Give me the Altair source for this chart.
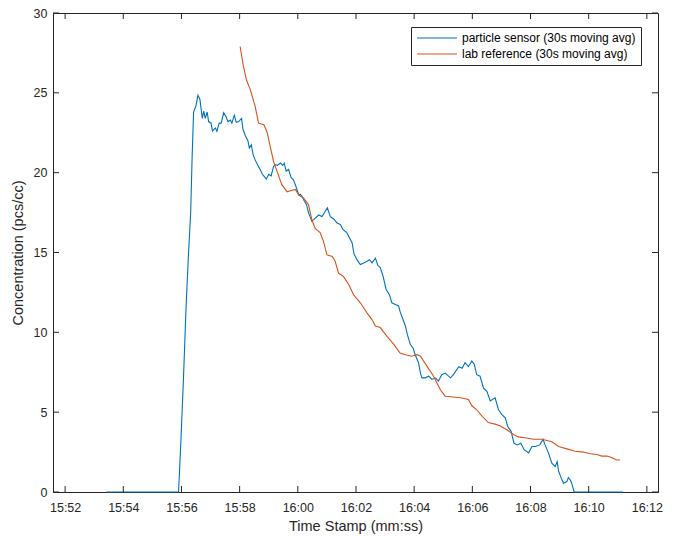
import altair as alt
import pandas as pd

# ---------------- data ----------------
sensor_time = [
    "15:53:25", "15:55:54", "15:55:59", "15:56:04", "15:56:10", "15:56:15", "15:56:19", "15:56:22",
    "15:56:25", "15:56:30", "15:56:34", "15:56:38", "15:56:43", "15:56:46", "15:56:49", "15:56:53",
    "15:56:56", "15:57:01", "15:57:04", "15:57:10", "15:57:13", "15:57:18", "15:57:22", "15:57:27",
    "15:57:32", "15:57:36", "15:57:41", "15:57:44", "15:57:49", "15:57:53", "15:57:58", "15:58:04",
    "15:58:07", "15:58:12", "15:58:17", "15:58:20", "15:58:24", "15:58:28", "15:58:32", "15:58:37",
    "15:58:43", "15:58:47", "15:58:51", "15:58:55", "15:59:00", "15:59:05", "15:59:10", "15:59:14",
    "15:59:18", "15:59:24", "15:59:29", "15:59:32", "15:59:36", "15:59:41", "15:59:46", "15:59:51",
    "15:59:56", "16:00:02", "16:00:05", "16:00:09", "16:00:12", "16:00:18", "16:00:22", "16:00:29",
    "16:00:36", "16:00:43", "16:00:50", "16:00:57", "16:01:01", "16:01:07", "16:01:14", "16:01:21",
    "16:01:28", "16:01:33", "16:01:41", "16:01:47", "16:01:52", "16:01:56", "16:02:02", "16:02:09",
    "16:02:16", "16:02:23", "16:02:28", "16:02:33", "16:02:40", "16:02:45", "16:02:50", "16:02:56",
    "16:03:02", "16:03:09", "16:03:14", "16:03:21", "16:03:28", "16:03:31", "16:03:37", "16:03:42",
    "16:03:46", "16:03:52", "16:03:58", "16:04:02", "16:04:09", "16:04:13", "16:04:16", "16:04:23",
    "16:04:30", "16:04:37", "16:04:44", "16:04:50", "16:04:57", "16:05:04", "16:05:15", "16:05:21",
    "16:05:32", "16:05:39", "16:05:45", "16:05:52", "16:05:59", "16:06:04", "16:06:09", "16:06:16",
    "16:06:23", "16:06:30", "16:06:37", "16:06:47", "16:06:54", "16:07:01", "16:07:08", "16:07:13",
    "16:07:20", "16:07:26", "16:07:33", "16:07:40", "16:07:47", "16:07:56", "16:08:03", "16:08:10",
    "16:08:19", "16:08:26", "16:08:30", "16:08:37", "16:08:44", "16:08:51", "16:08:55", "16:08:58",
    "16:09:03", "16:09:08", "16:09:15", "16:09:18", "16:09:22", "16:09:25", "16:09:30", "16:11:11",
]
sensor_value = [
    0, 0, 3.3, 7.0, 12.0, 15.2, 17.5, 21.0,
    23.8, 24.2, 24.85, 24.6, 23.4, 23.85, 23.4, 23.8,
    23.2, 23.1, 22.6, 22.8, 22.6, 23.1, 23.1, 23.75,
    23.5, 23.2, 23.3, 23.1, 23.6, 23.15, 23.2, 23.4,
    22.7, 22.3, 22.0, 21.55, 21.75, 21.1, 20.8, 20.5,
    20.15, 19.9, 19.75, 19.6, 19.9, 19.8, 20.4, 20.5,
    20.45, 20.6, 20.45, 20.6, 20.1, 20.2, 19.7, 19.55,
    19.15, 18.6, 18.65, 18.5, 18.3, 18.0, 17.5, 16.95,
    17.15, 17.35, 17.25, 17.6, 17.8, 17.25, 17.1, 16.85,
    16.75, 16.45, 16.25, 15.9, 15.6, 14.9, 14.55, 14.25,
    14.35, 14.45, 14.55, 14.35, 14.65, 14.2, 14.05, 13.5,
    12.7, 12.35, 11.85, 11.75, 11.65, 11.3, 10.8, 10.4,
    9.85, 9.25, 9.0, 8.6, 8.1, 7.45, 7.15, 7.15,
    7.25, 7.05, 7.15, 6.95, 7.35, 7.45, 7.15, 7.35,
    7.85, 7.75, 8.1, 7.85, 8.2, 8.0, 7.35, 7.25,
    6.5, 6.3, 5.7, 5.9, 5.15, 4.85, 4.65, 4.1,
    3.8, 3.05, 2.95, 3.05, 2.65, 2.45, 2.85, 2.85,
    2.95, 3.3, 2.95, 2.45, 1.8, 1.6, 1.9, 1.3,
    0.9, 0.55, 0.65, 0.9, 0.75, 0.55, 0, 0,
]

lab_time = [
    "15:58:01", "15:58:07", "15:58:14", "15:58:22", "15:58:32", "15:58:39", "15:58:50", "15:58:57",
    "15:59:03", "15:59:10", "15:59:17", "15:59:27", "15:59:38", "15:59:48", "15:59:55", "16:00:02",
    "16:00:12", "16:00:22", "16:00:29", "16:00:36", "16:00:46", "16:00:53", "16:01:00", "16:01:11",
    "16:01:17", "16:01:24", "16:01:34", "16:01:45", "16:01:55", "16:02:09", "16:02:23", "16:02:33",
    "16:02:40", "16:02:50", "16:03:04", "16:03:18", "16:03:31", "16:03:42", "16:03:55", "16:04:06",
    "16:04:13", "16:04:26", "16:04:40", "16:04:54", "16:05:04", "16:05:21", "16:05:35", "16:05:52",
    "16:05:59", "16:06:09", "16:06:20", "16:06:33", "16:06:47", "16:06:57", "16:07:11", "16:07:25",
    "16:07:35", "16:07:49", "16:08:06", "16:08:24", "16:08:44", "16:08:58", "16:09:15", "16:09:32",
    "16:09:49", "16:10:03", "16:10:17", "16:10:27", "16:10:38", "16:10:48", "16:10:58", "16:11:05",
]
lab_value = [
    27.9, 26.8, 25.8, 25.2, 24.15, 23.1, 23.0, 22.5,
    21.65, 20.7, 20.1, 19.25, 18.8, 18.9, 18.95, 18.6,
    18.4, 18.0, 17.05, 16.5, 16.25, 15.7, 14.85, 14.75,
    14.45, 13.7, 13.5, 13.0, 12.35, 11.85, 11.2, 10.8,
    10.4, 10.3, 9.75, 9.25, 8.7, 8.6, 8.5, 8.6,
    8.5, 7.9, 7.25, 6.4, 6.0, 5.95, 5.9, 5.8,
    5.4, 5.15, 4.75, 4.35, 4.25, 4.15, 3.9, 3.6,
    3.45, 3.4, 3.3, 3.3, 3.15, 2.85, 2.7, 2.55,
    2.5, 2.4, 2.35, 2.25, 2.25, 2.15, 2.0, 2.0,
]

series_names = ["particle sensor (30s moving avg)", "lab reference (30s moving avg)"]
series_colors = ["#0072BD", "#D95319"]

x_tick_labels = ["15:52", "15:54", "15:56", "15:58", "16:00", "16:02",
                 "16:04", "16:06", "16:08", "16:10", "16:12"]
y_ticks = [0, 5, 10, 15, 20, 25, 30]
x_limits = ["15:51:35", "16:12:23"]


def to_min(s):
    parts = [int(p) for p in s.split(":")]
    h, m = parts[0], parts[1]
    sec = parts[2] if len(parts) > 2 else 0
    return (h - 15) * 60 + m + sec / 60.0


df = pd.concat([
    pd.DataFrame({"t": [to_min(s) for s in sensor_time], "v": sensor_value, "series": series_names[0]}),
    pd.DataFrame({"t": [to_min(s) for s in lab_time], "v": lab_value, "series": series_names[1]}),
], ignore_index=True)

x_ticks = [to_min(s) for s in x_tick_labels]
xt_df = pd.DataFrame({"t": x_ticks})
yt_df = pd.DataFrame({"v": y_ticks})

W, H = 605, 479
FONT = "Liberation Sans"
AX = "#262626"

x_scale = alt.Scale(domain=[to_min(x_limits[0]), to_min(x_limits[1])], nice=False, zero=False)
y_scale = alt.Scale(domain=[0, 30], nice=False, zero=False)

label_expr = ("datum.value < 60 ? '15:' + (datum.value < 10 ? '0' : '') + format(datum.value, 'd') "
              ": '16:' + (datum.value - 60 < 10 ? '0' : '') + format(datum.value - 60, 'd')")

x_axis = alt.Axis(values=x_ticks, labelExpr=label_expr, title="Time Stamp (mm:ss)",
                  ticks=False, grid=False, labelPadding=9, titlePadding=6)
y_axis = alt.Axis(values=y_ticks, title="Concentration (pcs/cc)",
                  ticks=False, grid=False, labelPadding=6, titlePadding=8)

x_enc = alt.X("t:Q", scale=x_scale, axis=x_axis)
y_enc = alt.Y("v:Q", scale=y_scale, axis=y_axis)

lines = alt.Chart(df).mark_line(strokeWidth=1.1).encode(
    x=x_enc,
    y=y_enc,
    color=alt.Color("series:N",
                    scale=alt.Scale(domain=series_names, range=series_colors),
                    sort=series_names,
                    legend=alt.Legend(title=None, orient="none", legendX=358, legendY=14,
                                      symbolType="stroke", symbolSize=1600, symbolStrokeWidth=1.1,
                                      clipHeight=12, labelLimit=0,
                                      labelFont=FONT, labelFontSize=12, labelColor="#000000",
                                      strokeColor=AX, fillColor="white", padding=5,
                                      rowPadding=4, labelOffset=4)),
)

TL = 6
xt_bottom = alt.Chart(xt_df).mark_rule(color=AX, strokeWidth=1).encode(
    x=x_enc, y=alt.value(H), y2=alt.value(H - TL))
xt_top = alt.Chart(xt_df).mark_rule(color=AX, strokeWidth=1).encode(
    x=x_enc, y=alt.value(0), y2=alt.value(TL))
yt_left = alt.Chart(yt_df).mark_rule(color=AX, strokeWidth=1).encode(
    y=y_enc, x=alt.value(0), x2=alt.value(TL))
yt_right = alt.Chart(yt_df).mark_rule(color=AX, strokeWidth=1).encode(
    y=y_enc, x=alt.value(W), x2=alt.value(W - TL))

chart = alt.layer(lines, xt_bottom, xt_top, yt_left, yt_right).properties(
    width=W, height=H,
    autosize=alt.AutoSizeParams(type="none"),
    padding={"left": 53, "top": 13, "right": 16, "bottom": 44},
    background="white",
).configure_view(
    stroke=AX, strokeWidth=1
).configure_axis(
    domainColor=AX, domainWidth=1, labelColor=AX, titleColor=AX,
    labelFont=FONT, titleFont=FONT, labelFontSize=12.5, titleFontSize=14.5,
    titleFontWeight="normal",
)

chart.save("out.html", embed_options={"renderer": "svg", "actions": False})
